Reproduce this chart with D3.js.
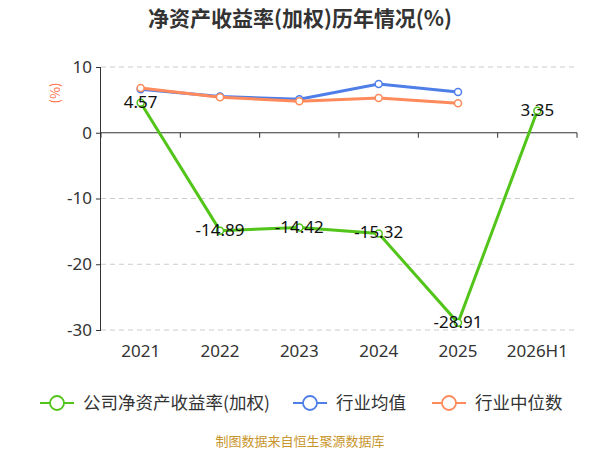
<!DOCTYPE html>
<html><head><meta charset="utf-8">
<script src="https://cdn.jsdelivr.net/npm/d3@7"></script>
<style>body{margin:0;background:#fff}svg{display:block;font-family:"Noto Sans CJK SC","Noto Sans",sans-serif}</style>
</head><body><svg id="c" width="600" height="450"></svg>
<script>
const categories = ["2021","2022","2023","2024","2025","2026H1"];
const companyROE = [4.57,-14.89,-14.42,-15.32,-28.91,3.35];
const industryAvg = [6.6,5.5,5.1,7.4,6.2,null];
const industryMedian = [6.8,5.4,4.8,5.3,4.5,null];
const yTicks = [10,0,-10,-20,-30];
const seriesNames = ["公司净资产收益率(加权)","行业均值","行业中位数"];
const colors = ["#52c41a","#4e7ee8","#ff8a5c"];

(function(){
const svg = d3.select("#c");
const mL = 101, mR = 577, mT = 67, mB = 330;
const x = d3.scaleBand().domain(categories).range([mL,mR]);
const y = d3.scaleLinear().domain([-30,10]).range([mB,mT]);

svg.append("text").attr("x",300).attr("y",26).attr("text-anchor","middle")
  .attr("font-size",21).attr("font-weight","bold").attr("fill","#333")
  .text("净资产收益率(加权)历年情况(%)");

svg.append("g").selectAll("line").data(yTicks.filter(d=>d!==0)).join("line")
  .attr("x1",mL).attr("x2",mR).attr("y1",d=>y(d)).attr("y2",d=>y(d))
  .attr("stroke","#ccc").attr("stroke-dasharray","5,4");

const ya = svg.append("g").attr("transform",`translate(${mL},0)`)
  .call(d3.axisLeft(y).tickValues(yTicks).tickFormat(d=>String(d)).tickSize(5).tickPadding(4));
ya.select(".domain").attr("stroke","#333").attr("d",`M-0.5,${mT}V${mB}`);
ya.selectAll(".tick line").attr("stroke","#333");
ya.selectAll("text").attr("font-size",17).attr("fill","#333").attr("font-family","Noto Sans, sans-serif");

svg.append("text").attr("transform",`translate(56,93) rotate(-90)`).attr("text-anchor","middle")
  .attr("dominant-baseline","middle").attr("font-size",13).attr("fill","#ff6a3d").text("(%)");

const xa = svg.append("g").attr("transform",`translate(0,${y(0)})`);
xa.append("line").attr("x1",mL).attr("x2",mR).attr("stroke","#333").attr("stroke-width",1.2);
const bounds = d3.range(categories.length+1).map(i=>mL+i*x.step());
xa.selectAll(".tk").data(bounds).join("line").attr("class","tk")
  .attr("x1",d=>d).attr("x2",d=>d).attr("y1",0).attr("y2",5).attr("stroke","#333");
svg.append("g").selectAll("text").data(categories).join("text")
  .attr("x",d=>x(d)+x.bandwidth()/2).attr("y",357).attr("text-anchor","middle")
  .attr("font-size",17).attr("fill","#333").attr("font-family","Noto Sans, sans-serif").text(d=>d);

const cx = d=>x(d)+x.bandwidth()/2;
function drawSeries(vals,color){
  const pts = categories.map((c,i)=>({c,v:vals[i]})).filter(p=>p.v!=null);
  svg.append("path").datum(pts).attr("fill","none").attr("stroke",color).attr("stroke-width",3)
    .attr("d",d3.line().x(p=>cx(p.c)).y(p=>y(p.v)));
  svg.append("g").selectAll("circle").data(pts).join("circle")
    .attr("cx",p=>cx(p.c)).attr("cy",p=>y(p.v)).attr("r",3.5)
    .attr("fill","#fff").attr("stroke",color).attr("stroke-width",1.5);
  return pts;
}
drawSeries(industryAvg,colors[1]);
drawSeries(industryMedian,colors[2]);
const gp = drawSeries(companyROE,colors[0]);
svg.append("g").selectAll("text").data(gp).join("text")
  .attr("x",p=>cx(p.c)).attr("y",p=>y(p.v)-1).attr("dy","0.35em").attr("text-anchor","middle")
  .attr("font-size",17).attr("fill","#111").attr("font-family","Noto Sans, sans-serif").text(p=>p.v.toFixed(2));

const lg = svg.append("g");
const legX = [40,293,432];
seriesNames.forEach((n,i)=>{
  const g = lg.append("g").attr("transform",`translate(${legX[i]},403)`);
  g.append("line").attr("x1",0).attr("x2",34).attr("stroke",colors[i]).attr("stroke-width",2);
  g.append("circle").attr("cx",17).attr("r",7).attr("fill","#fff").attr("stroke",colors[i]).attr("stroke-width",1.8);
  g.append("text").attr("x",43).attr("dy","0.35em").attr("font-size",17.5).attr("fill","#333").text(n);
});
svg.append("text").attr("x",300).attr("y",446).attr("text-anchor","middle")
  .attr("font-size",13).attr("fill","#c8962e").text("制图数据来自恒生聚源数据库");
})();
</script></body></html>
